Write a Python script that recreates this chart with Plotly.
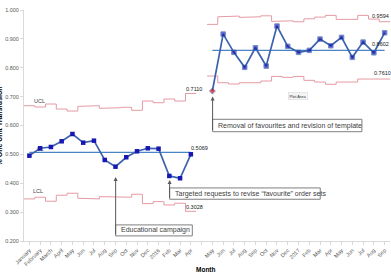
import plotly.graph_objects as go

# ---------------- data ----------------
months = ["January", "February", "March", "April", "May", "Jun", "Jul", "Aug", "Sep",
          "Oct", "Nov", "Dec", "2016", "Feb", "Mar", "Apr", "",
          "May", "Jun", "Jul", "Aug", "Sep", "Oct", "Nov", "Dec", "2017",
          "Feb", "Mar", "Apr", "May", "Jun", "Jul", "Aug", "Sep"]

pct_phase1 = [0.4955, 0.5211, 0.5256, 0.5453, 0.5706, 0.5405, 0.5474, 0.4806,
              0.4574, 0.4900, 0.5107, 0.5211, 0.5197, 0.4253, 0.4173, 0.5003]
ucl_phase1 = [0.6685, 0.6640, 0.6744, 0.6570, 0.6500, 0.6664, 0.6685, 0.6595,
              0.6616, 0.6630, 0.6526, 0.6848, 0.6789, 0.6917, 0.6848, 0.7110]
lcl_phase1 = [0.3457, 0.3516, 0.3377, 0.3585, 0.3654, 0.3481, 0.3457, 0.3536,
              0.3516, 0.3516, 0.3619, 0.3294, 0.3363, 0.3249, 0.3308, 0.3028]
cl_phase1 = 0.5069

pct_phase2 = [0.7194, 0.9166, 0.8533, 0.8014, 0.8692, 0.8059, 0.9443, 0.8740, 0.8533,
              0.8602, 0.8993, 0.8761, 0.9052, 0.8360, 0.8889, 0.8519, 0.9211]
ucl_phase2 = [0.9502, 0.9765, 0.9789, 0.9744, 0.9765, 0.9799, 0.9606, 0.9626, 0.9592,
              0.9695, 0.9754, 0.9813, 0.9675, 0.9675, 0.9813, 0.9685, 0.9594]
lcl_phase2 = [0.7713, 0.7481, 0.7436, 0.7481, 0.7481, 0.7540, 0.7700, 0.7668, 0.7700,
              0.7564, 0.7505, 0.7426, 0.7505, 0.7505, 0.7609, 0.7609, 0.7610]
cl_phase2 = 0.8602

phase1_start = 0
phase2_start = 17

# ---------------- helpers ----------------
def idx(start, n):
    return list(range(start, start + n))

def steps(start, vals):
    xs, ys = [], []
    for i, v in enumerate(vals):
        xs += [start + i - 0.5, start + i + 0.5]
        ys += [v, v]
    return xs, ys

LIMIT = "#E59AA3"
DATA_LINE = "#3B62AC"
MARKER = "#1717B4"
CL_COLOR = "#4A84C4"
TXT = "#404040"
FONT = "Liberation Sans, Arial, sans-serif"

fig = go.Figure()

# limits
for start, u, l in [(phase1_start, ucl_phase1, lcl_phase1), (phase2_start, ucl_phase2, lcl_phase2)]:
    for vals in (u, l):
        xs, ys = steps(start, vals)
        fig.add_trace(go.Scatter(x=xs, y=ys, mode="lines",
                                 line=dict(color=LIMIT, width=1), hoverinfo="skip"))

# centre lines
x1 = idx(phase1_start, len(pct_phase1))
x2 = idx(phase2_start, len(pct_phase2))
fig.add_trace(go.Scatter(x=[x1[0], x1[-1]], y=[cl_phase1, cl_phase1], mode="lines",
                         line=dict(color=CL_COLOR, width=1.3)))
fig.add_trace(go.Scatter(x=[x2[0], x2[-1]], y=[cl_phase2, cl_phase2], mode="lines",
                         line=dict(color=CL_COLOR, width=1.3)))

# "CL" label underneath data markers
fig.add_trace(go.Scatter(x=[x1[1]], y=[cl_phase1], mode="text", text=["CL"],
                         textposition="top center",
                         textfont=dict(size=5.5, color=TXT, family=FONT)))

# data
fig.add_trace(go.Scatter(x=x1, y=pct_phase1, mode="lines+markers",
                         line=dict(color=DATA_LINE, width=1.7),
                         marker=dict(symbol="square", size=4.5, color=MARKER)))
fig.add_trace(go.Scatter(x=x2, y=pct_phase2, mode="lines+markers",
                         line=dict(color=DATA_LINE, width=1.7),
                         marker=dict(symbol=["diamond"] + ["square"] * (len(pct_phase2) - 1),
                                     size=[4.5] + [4.5] * (len(pct_phase2) - 1),
                                     color=["#E01010"] + [MARKER] * (len(pct_phase2) - 1))))

# ---------------- layout helpers (pixel -> axis) ----------------
W, H = 391, 272
L, R, T, B = 23.6, 1.2, 9.9, 30.9
PW, PH = W - L - R, H - T - B

def px_x(px):
    return -0.5 + (px - L) / PW * 34

def px_y(py):
    return 1.0 - (py - T) / PH * 0.8

def paper_x(px):
    return (px - L) / PW

def paper_y(py):
    return (H - B - py) / PH

annotations = []

def value_label(xi, v, xshift, yshift=0):
    annotations.append(dict(x=xi, y=v, xref="x", yref="y", text=f"{v:.4f}",
                            showarrow=False, xanchor="left", yanchor="bottom",
                            xshift=xshift, yshift=yshift,
                            font=dict(size=5.5, color="#202020", family=FONT)))

value_label(x1[-1], cl_phase1, -2, -1)
value_label(x1[-1], ucl_phase1[-1], -7, -1)
value_label(x1[-1], lcl_phase1[-1], -7, -1)
value_label(x2[-1], ucl_phase2[-1], -15, 1)
value_label(x2[-1], cl_phase2, -15, 1)
value_label(x2[-1], lcl_phase2[-1], -13, 1)

for txt, px, py in [("UCL", 39, 101), ("LCL", 38, 191.5)]:
    annotations.append(dict(x=px_x(px), y=px_y(py), xref="x", yref="y", text=txt,
                            showarrow=False, font=dict(size=5.5, color=TXT, family=FONT)))

shapes = []

def callout(text, bx0, bx1, by0, by1, arrow_x, tip_y):
    shapes.append(dict(type="rect", xref="x", yref="y",
                       x0=px_x(bx0), x1=px_x(bx1), y0=px_y(by1), y1=px_y(by0),
                       line=dict(color="#7F7F7F", width=1), fillcolor="white", layer="above"))
    annotations.append(dict(x=px_x(bx0 + 3), y=px_y((by0 + by1) / 2), xref="x", yref="y",
                            text=text, showarrow=False, xanchor="left", yanchor="middle",
                            font=dict(size=7, color=TXT, family=FONT)))
    annotations.append(dict(x=px_x(arrow_x), y=px_y(tip_y), xref="x", yref="y",
                            ax=px_x(arrow_x), ay=px_y(by1), axref="x", ayref="y",
                            text="", showarrow=True, arrowhead=2, arrowsize=0.8,
                            arrowwidth=1, arrowcolor="#595959", standoff=0))

callout("Educational campaign", 115.3, 192, 225, 236, 115.3, 177)
callout("Targeted requests to revise \u201cfavourite\u201d order sets", 169.3, 320, 188, 199.3, 169.3, 180)
callout("Removal of favourites and revision of template", 212.3, 361.7, 119.3, 131.7, 212.3, 96.5)

# "Plot Area" tooltip
annotations.append(dict(x=px_x(297.5), y=px_y(96), xref="x", yref="y", text="Plot Area",
                        showarrow=False, bgcolor="#F4F4F4", bordercolor="#D8D8D8",
                        borderwidth=0.5, borderpad=1,
                        font=dict(size=4, color="#333333", family=FONT)))

# chart title (mostly cut off at the top edge, as in the reference)
annotations.append(dict(x=paper_x(180), y=paper_y(-3), xref="paper", yref="paper",
                        text="Percent One Unit Orders for Non-Self Transfusion",
                        showarrow=False, xanchor="center", yanchor="middle",
                        font=dict(size=8, color="#8C8C8C", family=FONT, weight="bold")))

# axis titles
annotations.append(dict(x=paper_x(-0.5), y=0.5, xref="paper", yref="paper",
                        text="% One Unit Transfusion", textangle=-90, showarrow=False,
                        xanchor="center", yanchor="middle",
                        font=dict(size=7, color="#000000", family=FONT, weight="bold")))
annotations.append(dict(x=paper_x(206), y=paper_y(270),
                        xref="paper", yref="paper", text="Month", showarrow=False,
                        xanchor="center", yanchor="middle",
                        font=dict(size=6.5, color="#000000", family=FONT, weight="bold")))

fig.update_layout(
    width=W, height=H,
    margin=dict(l=L, r=R, t=T, b=B, pad=0),
    paper_bgcolor="white", plot_bgcolor="white",
    showlegend=False,
    xaxis=dict(range=[-0.5, 33.5], tickmode="array", tickvals=list(range(len(months))),
               ticktext=months, tickangle=-45, showgrid=False, zeroline=False,
               showline=True, linecolor="#D9D9D9", linewidth=1,
               ticks="outside", ticklen=3, tickcolor="#D9D9D9",
               tickfont=dict(size=5.5, color="#595959", family=FONT), automargin=False),
    yaxis=dict(range=[0.2, 1.0], tickmode="array",
               tickvals=[0.2, 0.3, 0.4, 0.5, 0.6, 0.7, 0.8, 0.9, 1.0],
               tickformat=".3f", showgrid=False, zeroline=False,
               showline=True, linecolor="#D9D9D9", linewidth=1,
               ticks="outside", ticklen=3, tickcolor="#D9D9D9",
               tickfont=dict(size=5.5, color="#595959", family=FONT), automargin=False),
    annotations=annotations,
    shapes=shapes,
)

fig.write_html("out.html")
